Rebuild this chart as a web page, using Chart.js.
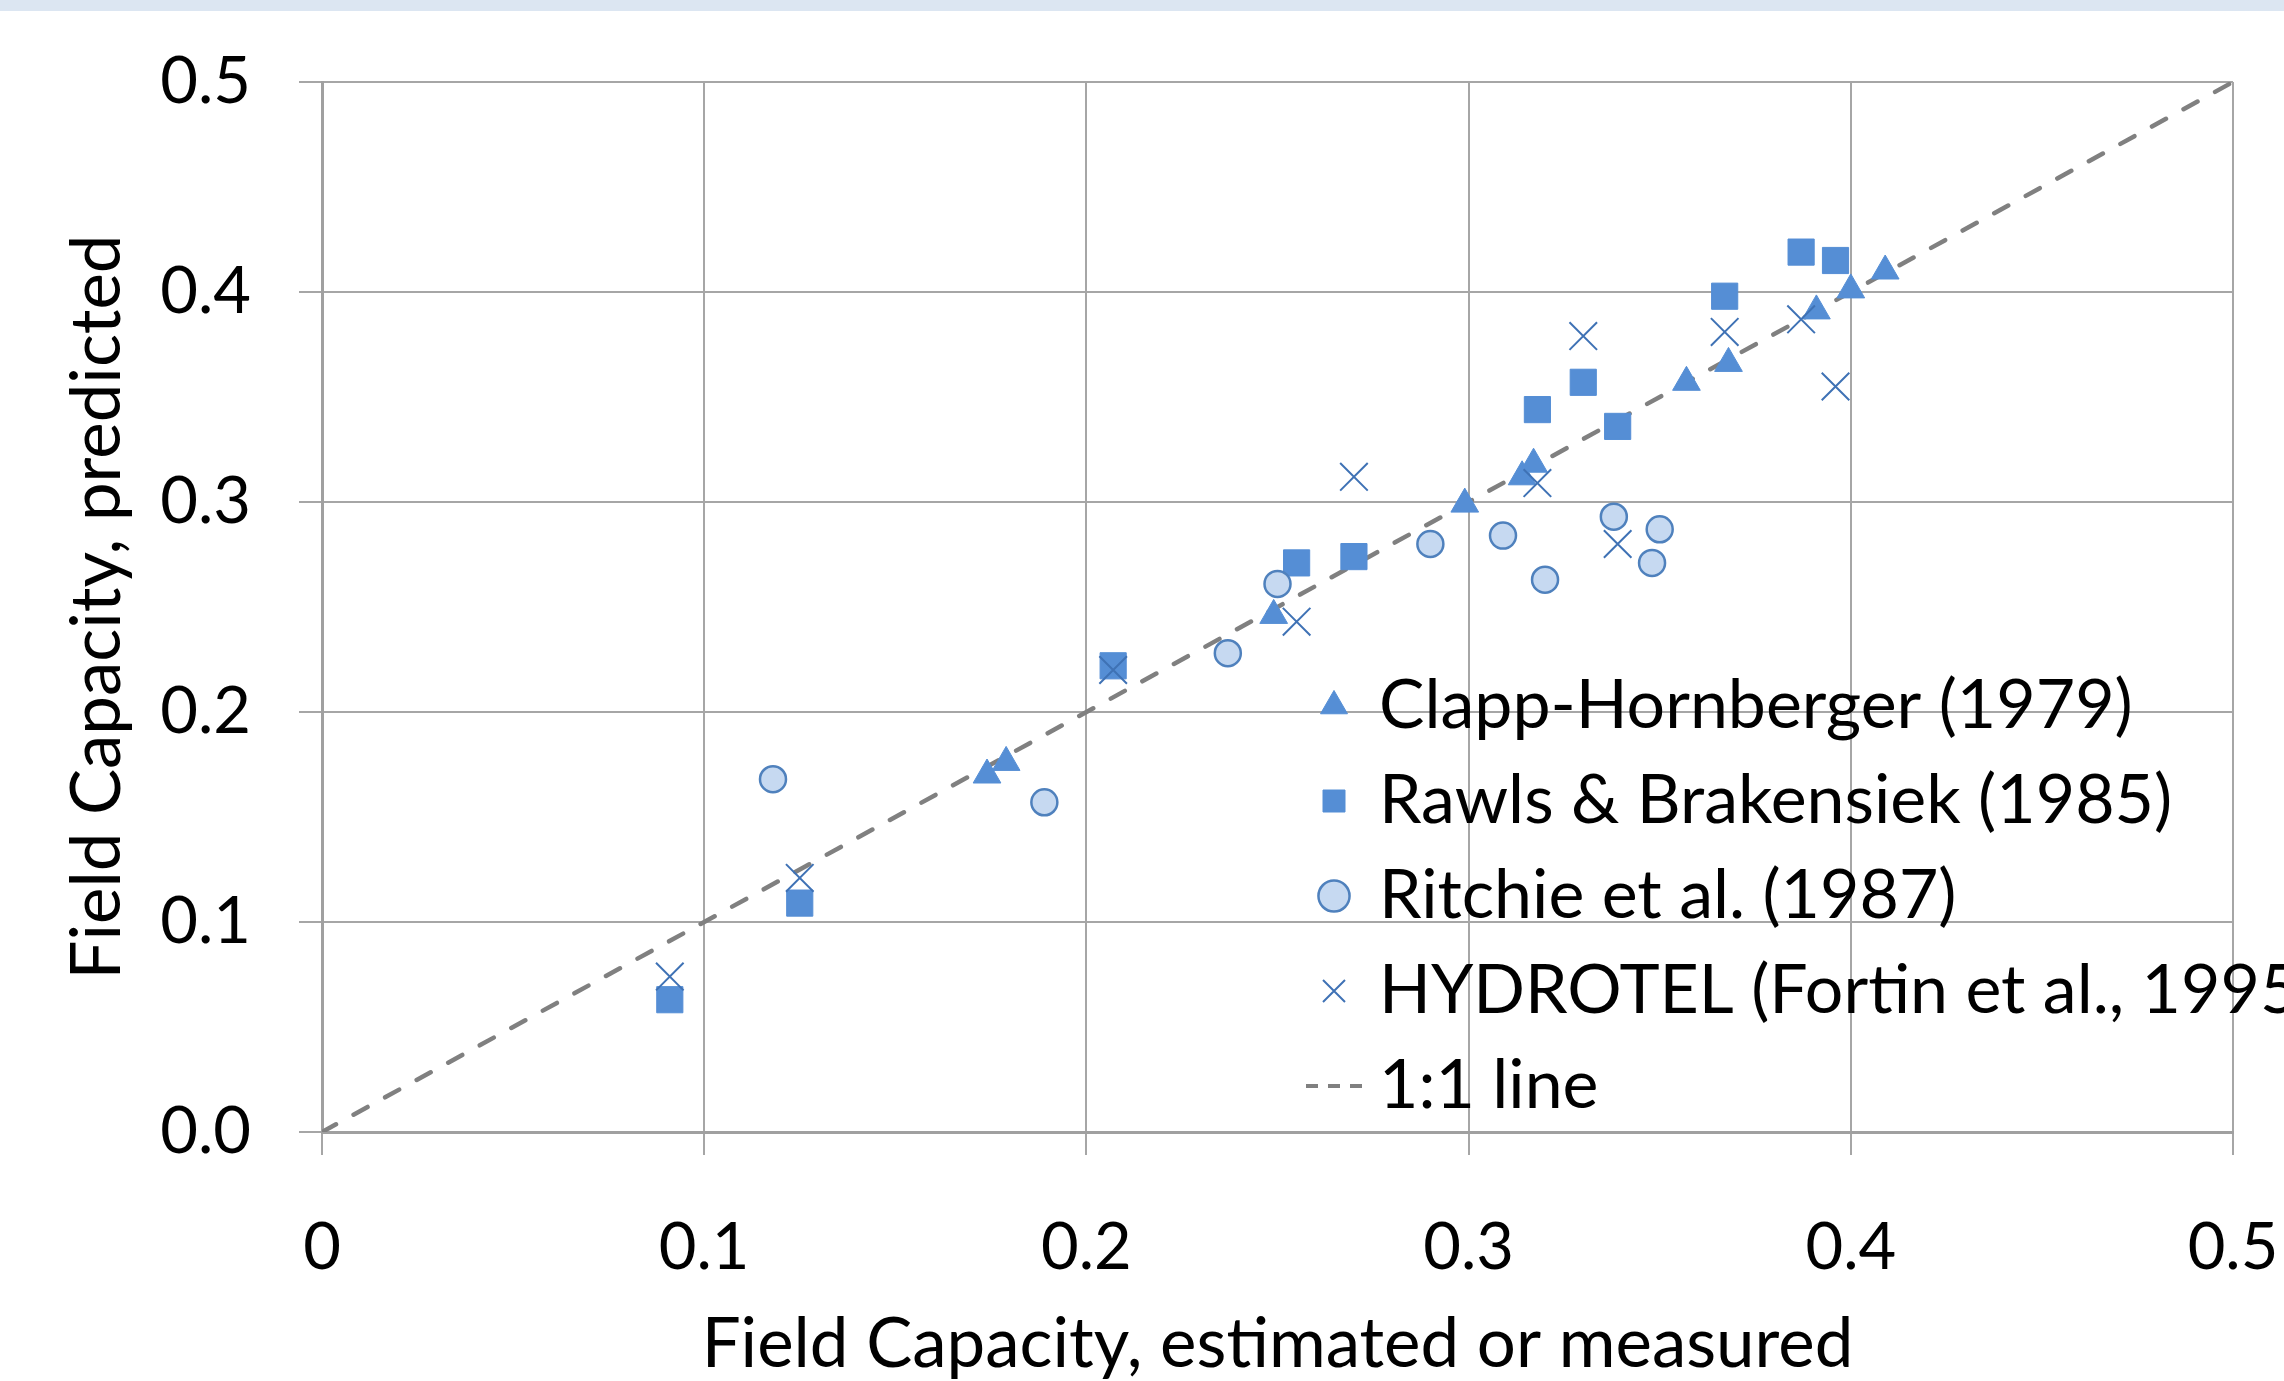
<!DOCTYPE html>
<html><head><meta charset="utf-8">
<script src="https://cdn.jsdelivr.net/npm/chart.js@4.4.1/dist/chart.umd.min.js"></script>
<style>
html,body{margin:0;padding:0;background:#fff;overflow:hidden;width:2284px;height:1381px;}
#band{position:absolute;left:0;top:0;width:2284px;height:11px;background:#dce6f2;z-index:2}
#wrap{position:absolute;left:0;top:0;width:2400px;height:1381px;}
</style></head><body>
<div id="band"></div>
<div id="wrap"><canvas id="c" width="2400" height="1381"></canvas></div>
<script>
// ---- data ----
const seriesNames = ['Clapp-Hornberger (1979)', 'Rawls & Brakensiek (1985)', 'Ritchie et al. (1987)', 'HYDROTEL (Fortin et al., 1995)', '1:1 line'];
const clappX = [0.174, 0.179, 0.249, 0.299, 0.314, 0.317, 0.357, 0.368, 0.391, 0.400, 0.409];
const clappY = [0.170, 0.176, 0.246, 0.299, 0.312, 0.318, 0.357, 0.366, 0.391, 0.401, 0.410];
const rawlsX = [0.091, 0.125, 0.207, 0.255, 0.270, 0.318, 0.330, 0.339, 0.367, 0.387, 0.396];
const rawlsY = [0.063, 0.109, 0.222, 0.271, 0.274, 0.344, 0.357, 0.336, 0.398, 0.419, 0.415];
const ritchieX = [0.118, 0.189, 0.237, 0.250, 0.290, 0.309, 0.320, 0.338, 0.348, 0.350];
const ritchieY = [0.168, 0.157, 0.228, 0.261, 0.280, 0.284, 0.263, 0.293, 0.271, 0.287];
const hydroX = [0.091, 0.125, 0.207, 0.255, 0.270, 0.318, 0.330, 0.339, 0.367, 0.387, 0.396];
const hydroY = [0.074, 0.121, 0.220, 0.243, 0.312, 0.309, 0.379, 0.280, 0.381, 0.387, 0.355];
const lineX = [0, 0.5];
const lineY = [0, 0.5];
const xTickLabels = ['0', '0.1', '0.2', '0.3', '0.4', '0.5'];
const yTickLabels = ['0.0', '0.1', '0.2', '0.3', '0.4', '0.5'];
const xTitle = 'Field Capacity, estimated or measured';
const yTitle = 'Field Capacity, predicted';

const pts = (xs, ys) => xs.map((x, i) => ({x: x, y: ys[i]}));

// legend icon for the dashed line
const lineIcon = document.createElement('canvas');
lineIcon.width = 60; lineIcon.height = 8;
(function(){ const g = lineIcon.getContext('2d'); g.strokeStyle = '#808080'; g.lineWidth = 4; g.setLineDash([12, 10]); g.beginPath(); g.moveTo(2, 4); g.lineTo(58, 4); g.stroke(); })();

const LEG_LEFT = 1296, LEG_TOP = 645;
const legendPlacer = {
  id: 'legendPlacer',
  afterLayout(chart) {
    const lg = chart.legend;
    if (!lg) return;
    lg.left = LEG_LEFT; lg.top = LEG_TOP;
    lg.right = chart.width; lg.bottom = chart.height;
    lg.width = chart.width - LEG_LEFT; lg.height = chart.height - LEG_TOP;
  }
};

Chart.defaults.font.family = 'Lato';
Chart.defaults.color = '#000';

const gridColor = '#a6a6a6';

new Chart(document.getElementById('c'), {
  type: 'scatter',
  data: {
    datasets: [
      { label: seriesNames[0], data: pts(clappX, clappY), pointStyle: 'triangle', pointRadius: 16,
        backgroundColor: '#558ed5', borderColor: '#558ed5', borderWidth: 1, order: 4 },
      { label: seriesNames[1], data: pts(rawlsX, rawlsY), pointStyle: 'rect', pointRadius: 18.5,
        backgroundColor: '#558ed5', borderColor: '#558ed5', borderWidth: 1, order: 3 },
      { label: seriesNames[2], data: pts(ritchieX, ritchieY), pointStyle: 'circle', pointRadius: 13,
        backgroundColor: '#c6d9f1', borderColor: '#4f81bd', borderWidth: 2.5, order: 1 },
      { label: seriesNames[3], data: pts(hydroX, hydroY), pointStyle: 'crossRot', pointRadius: 19.5,
        backgroundColor: '#3f72b5', borderColor: '#3f72b5', borderWidth: 2, order: 2 },
      { label: seriesNames[4], data: pts(lineX, lineY), showLine: true, pointRadius: 0, pointStyle: 'line',
        borderColor: '#808080', backgroundColor: '#808080', borderWidth: 4.5, borderDash: [16, 20],
        borderCapStyle: 'round', order: 5 }
    ]
  },
  options: {
    responsive: false,
    animation: false,
    events: [],
    layout: { padding: { left: 0, top: 82, right: 167, bottom: 0 } },
    scales: {
      x: {
        type: 'linear', min: 0, max: 0.5,
        ticks: { stepSize: 0.1, padding: 54, font: { size: 65 }, color: '#000',
                 callback: v => xTickLabels[Math.round(v * 10)] },
        grid: { color: gridColor, lineWidth: 2, tickLength: 23, tickColor: gridColor },
        border: { color: '#a0a0a0', width: 3 },
        title: { display: true, text: xTitle, font: { size: 69, lineHeight: 1 }, color: '#000',
                 padding: { top: 0, bottom: 2 } },
        afterFit: s => { s.height = 249; }
      },
      y: {
        type: 'linear', min: 0, max: 0.5,
        ticks: { stepSize: 0.1, padding: 48, font: { size: 65, lineHeight: 1 }, color: '#000',
                 callback: v => yTickLabels[Math.round(v * 10)] },
        grid: { color: gridColor, lineWidth: 2, tickLength: 23, tickColor: gridColor },
        border: { color: '#a0a0a0', width: 3 },
        title: { display: true, text: yTitle, font: { size: 69, lineHeight: 1 }, color: '#000',
                 padding: { top: 63, bottom: 0 } },
        afterFit: s => { s.width = 322; }
      }
    },
    plugins: {
      tooltip: { enabled: false },
      legend: {
        position: 'chartArea',
        align: 'start',
        labels: {
          usePointStyle: true, boxWidth: 22, boxHeight: 22, padding: 27,
          font: { size: 68 }, color: '#000',
          sort: (a, b) => a.datasetIndex - b.datasetIndex,
          generateLabels(chart) {
            const items = Chart.defaults.plugins.legend.labels.generateLabels(chart);
            items.forEach(it => { if (it.datasetIndex === 4) { it.pointStyle = lineIcon; it.lineWidth = 0; } });
            return items;
          }
        }
      }
    }
  },
  plugins: [legendPlacer]
});
</script>
</body></html>
